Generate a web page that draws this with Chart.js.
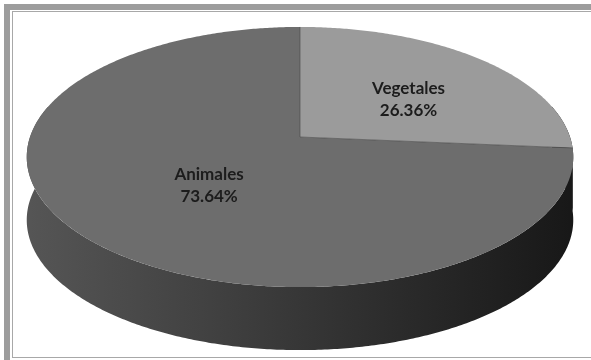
<!DOCTYPE html>
<html>
<head>
<meta charset="utf-8">
<script src="https://cdn.jsdelivr.net/npm/chart.js@4"></script>
<style>
    body { margin: 0; background: #fff; width: 591px; height: 360px; overflow: hidden; position: relative; }
    /* marco gris exterior e interior */
    .marco-ext { position: absolute; left: 4px; top: 4px; width: 700px; height: 400px;
                 border-left: 6px solid #9d9d9d; border-top: 6px solid #9d9d9d; }
    .marco-int { position: absolute; left: 12px; top: 11px; width: 700px; height: 345px;
                 border: 1px solid #a8a8a8; border-right: none; }
    #grafico { position: absolute; left: 0; top: 0; }
</style>
</head>
<body>
<div class="marco-ext"></div>
<div class="marco-int"></div>
<canvas id="grafico" width="591" height="360"></canvas>
<script>
// datos del gráfico
const categorias = ['Vegetales', 'Animales'];
const porcentajes = [26.36, 73.64];
const coloresCara = ['#9b9b9b', '#6d6d6d'];

// geometría de la tarta en perspectiva
const centroX = 300, centroY = 137;   // vértice de las porciones
const radioX = 270, radioY = 127;     // semiejes de la cara superior
const inclinacion = -0.154;           // factor de perspectiva
const grosor = 63;                    // altura del lateral

// proyecta un punto del disco (ángulo, fracción de radio) a la pantalla
function proyectar(ang, f, dy) {
    const px = f * Math.cos(ang), py = f * Math.sin(ang);
    const w = 1 + inclinacion * py;
    return { x: centroX + radioX * px / w, y: centroY + radioY * py / w + (dy || 0) };
}

function trazarBorde(ctx, a0, a1, dy, primero) {
    const pasos = Math.max(2, Math.ceil(Math.abs(a1 - a0) / 0.01));
    for (let i = 0; i <= pasos; i++) {
        const p = proyectar(a0 + (a1 - a0) * i / pasos, 1, dy);
        if (i === 0 && primero) ctx.moveTo(p.x, p.y); else ctx.lineTo(p.x, p.y);
    }
}

const tarta3d = {
    id: 'tarta3d',
    beforeDatasetsDraw(chart) {
        const ctx = chart.ctx;
        const arcos = chart.getDatasetMeta(0).data;

        // lateral (solo la mitad delantera es visible)
        const grad = ctx.createLinearGradient(centroX - radioX, 0, centroX + radioX, 0);
        grad.addColorStop(0, '#555555');
        grad.addColorStop(0.35, '#404040');
        grad.addColorStop(0.7, '#2a2a2a');
        grad.addColorStop(1, '#181818');
        arcos.forEach(arco => {
            const a0 = Math.max(arco.startAngle, -0.25);
            const a1 = Math.min(arco.endAngle, Math.PI + 0.25);
            if (a1 <= a0) return;
            ctx.beginPath();
            trazarBorde(ctx, a0, a1, 0, true);
            trazarBorde(ctx, a1, a0, grosor, false);
            ctx.closePath();
            ctx.fillStyle = grad;
            ctx.fill();
        });

        // caras superiores
        arcos.forEach((arco, i) => {
            ctx.beginPath();
            ctx.moveTo(centroX, centroY);
            trazarBorde(ctx, arco.startAngle, arco.endAngle, 0, false);
            ctx.closePath();
            ctx.fillStyle = coloresCara[i];
            ctx.fill();
        });

        // aristas entre porciones
        ctx.lineWidth = 1;
        ctx.strokeStyle = 'rgba(70,70,70,0.6)';
        arcos.forEach(arco => {
            const p = proyectar(arco.startAngle, 1, 0);
            ctx.beginPath();
            ctx.moveTo(centroX, centroY);
            ctx.lineTo(p.x, p.y);
            ctx.stroke();
        });

        // etiquetas con nombre y porcentaje
        ctx.fillStyle = '#1c1c1c';
        ctx.font = 'bold 17px Lato, "Open Sans", sans-serif';
        ctx.textAlign = 'center';
        ctx.textBaseline = 'middle';
        arcos.forEach((arco, i) => {
            const medio = (arco.startAngle + arco.endAngle) / 2;
            const p = proyectar(medio, 0.5, 0);
            ctx.fillText(categorias[i], p.x + 14, p.y - 8);
            ctx.fillText(porcentajes[i].toFixed(2) + '%', p.x + 14, p.y + 14);
        });
        return false;
    }
};

const ctx = document.getElementById('grafico').getContext('2d');
new Chart(ctx, {
    type: 'pie',
    data: {
        labels: categorias,
        datasets: [{
            data: porcentajes,
            backgroundColor: coloresCara,
            borderWidth: 0
        }]
    },
    options: {
        responsive: false,
        animation: false,
        plugins: {
            legend: { display: false },
            tooltip: { enabled: false }
        }
    },
    plugins: [tarta3d]
});
</script>
</body>
</html>
